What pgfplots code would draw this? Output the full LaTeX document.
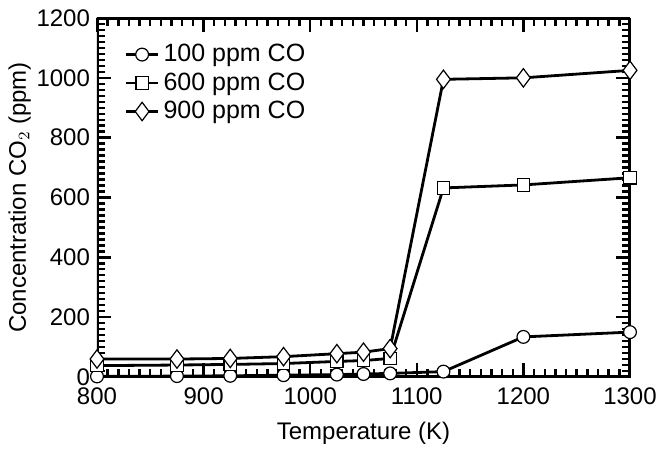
\documentclass[border=0pt]{standalone}
\usepackage{fontspec}
\setmainfont{Liberation Sans}
\usepackage{pgfplots}
\pgfplotsset{compat=1.18}
\begin{document}
\begin{tikzpicture}
\begin{axis}[
  at={(0,0)}, anchor=south west,
  scale only axis, width=266.5pt, height=179.5pt,
  xmin=800, xmax=1300, ymin=0, ymax=1200,
  xtick={800,900,...,1300}, ytick={0,200,...,1200},
  minor x tick num=9, minor y tick num=9,
  tick align=inside,
  every tick/.append style={black, line width=1.2pt},
  major tick length=7pt, minor tick length=4pt,
  /pgf/number format/assume math mode=true,
  /pgf/number format/1000 sep={},
  tick label style={font=\fontsize{12}{14}\selectfont},
  xticklabel style={yshift=-2pt},
  label style={font=\fontsize{12}{14}\selectfont},
  xlabel={Temperature (K)}, ylabel={Concentration CO$_2$ (ppm)},
  xlabel style={yshift=-1.5pt},
  ylabel style={yshift=-4pt},
  legend style={draw=none, fill=none, at={(0.04,0.95)}, anchor=north west, font=\fontsize{12.5}{15}\selectfont, row sep=0pt},
  legend cell align=left,
  legend image code/.code={\draw[#1] (0pt,0pt) -- (16pt,0pt); \draw[#1,only marks] plot coordinates {(8pt,0pt)};},
  every axis plot/.append style={black, line width=1.4pt, mark options={fill=white, line width=0.6pt, solid}},
]
\draw[line width=1.6pt] (rel axis cs:0,0) rectangle (rel axis cs:1,1);
\addplot[mark=*, mark size=3.2pt] coordinates {
(800,2) (875,3) (925,4) (975,6) (1025,8) (1050,10) (1075,12) (1125,18) (1200,134) (1300,150)};
\addlegendentry{100 ppm CO}
\addplot[mark=square*, mark size=3.1pt] coordinates {
(800,38) (875,40) (925,42) (975,45) (1025,52) (1050,55) (1075,62) (1125,632) (1200,642) (1300,666)};
\addlegendentry{600 ppm CO}
\addplot[mark=diamond*, mark size=4.6pt] coordinates {
(800,60) (875,60) (925,62) (975,68) (1025,78) (1050,83) (1075,95) (1125,995) (1200,1000) (1300,1025)};
\addlegendentry{900 ppm CO}
\end{axis}
\path (-48.5pt,-34.5pt) (284pt,188.5pt);
\end{tikzpicture}
\end{document}
